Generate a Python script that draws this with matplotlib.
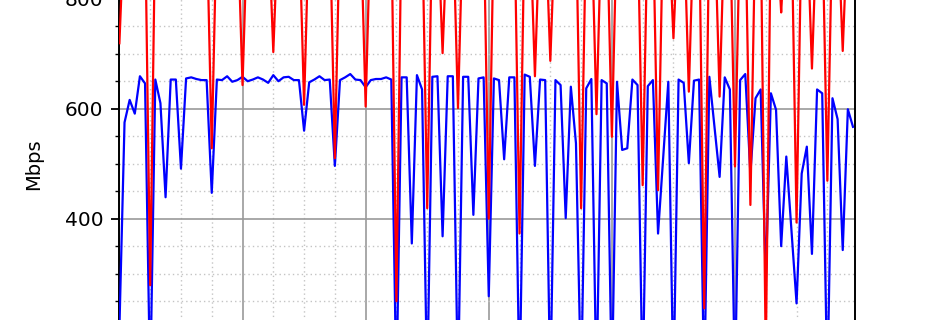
import numpy as np
import matplotlib
matplotlib.use("Agg")
import matplotlib.pyplot as plt
from matplotlib.ticker import MultipleLocator

# Throughput samples (Mbps), one per time step
blue_mbps = [200, 575, 616, 591, 659, 646, 90, 653, 610, 439,
             653, 653, 491, 655, 657, 654, 652, 652, 447, 653,
             652, 659, 649, 652, 658, 650, 653, 657, 653, 647,
             661, 650, 657, 658, 652, 652, 560, 648, 653, 659,
             652, 653, 496, 652, 657, 663, 653, 652, 639, 652,
             654, 654, 657, 653, 90, 657, 657, 355, 661, 635,
             90, 658, 659, 368, 659, 659, 90, 658, 658, 407,
             655, 657, 259, 655, 652, 508, 657, 657, 90, 662,
             658, 496, 653, 652, 90, 652, 643, 401, 640, 537,
             90, 637, 654, 90, 652, 646, 90, 649, 525, 528,
             653, 643, 90, 641, 652, 373, 511, 649, 90, 653,
             647, 501, 651, 653, 90, 658, 567, 476, 657, 635,
             90, 652, 663, 482, 619, 635, 289, 628, 598, 350,
             513, 379, 246, 482, 531, 336, 635, 628, 90, 619,
             581, 343, 599, 567]

red_mbps = [719, 950, 950, 950, 950, 950, 279, 950, 950, 950,
            950, 950, 950, 950, 950, 950, 950, 950, 528, 950,
            950, 950, 950, 950, 643, 950, 950, 950, 950, 950,
            703, 950, 950, 950, 950, 950, 607, 950, 950, 950,
            950, 950, 510, 950, 950, 950, 950, 950, 604, 950,
            950, 950, 950, 950, 250, 950, 950, 950, 950, 950,
            419, 950, 950, 701, 950, 950, 601, 950, 950, 950,
            950, 950, 400, 950, 950, 950, 950, 950, 373, 950,
            950, 659, 950, 950, 687, 950, 950, 950, 950, 950,
            419, 950, 950, 590, 950, 950, 549, 950, 950, 950,
            950, 950, 461, 950, 950, 452, 950, 950, 728, 950,
            950, 631, 950, 950, 237, 950, 950, 622, 950, 950,
            495, 950, 950, 425, 950, 950, 150, 950, 950, 775,
            950, 950, 393, 950, 950, 673, 950, 950, 469, 950,
            950, 705, 950, 950]

y_label = "Mbps"

x = np.arange(len(blue_mbps))

W, H = 950, 320
fig = plt.figure(figsize=(W / 100, H / 100), dpi=100)

# axes extends beyond the visible figure (cropped view)
left_px, right_px = 119.4, 855.3
top_px, bottom_px = -111.3, 438.7
ax = fig.add_axes([left_px / W, (H - bottom_px) / H,
                   (right_px - left_px) / W, (bottom_px - top_px) / H])

ax.plot(x, blue_mbps, color="#0000ff", lw=1.6, zorder=3)
ax.plot(x, red_mbps, color="#ff0000", lw=1.6, zorder=4)

ax.set_xlim(0, 143.45)
ax.set_ylim(0, 1000)

ax.xaxis.set_major_locator(MultipleLocator(24))
ax.xaxis.set_minor_locator(MultipleLocator(6))
ax.yaxis.set_major_locator(MultipleLocator(200))
ax.yaxis.set_minor_locator(MultipleLocator(50))

ax.grid(which="major", color="#9a9a9a", lw=1.2, ls="-", zorder=1)
ax.grid(which="minor", color="#c4c4c4", lw=1.0, ls=(0, (1, 2.2)), zorder=1)
ax.set_axisbelow(True)

ax.tick_params(axis="y", which="major", length=6, width=1.3, labelsize=14.5, pad=5.5)
ax.tick_params(axis="y", which="minor", length=3.2, width=1.0)
ax.tick_params(axis="x", which="both", bottom=False, labelbottom=False)

for s in ax.spines.values():
    s.set_linewidth(1.4)
    s.set_color("black")

ax.set_ylabel(y_label, fontsize=14)
ax.yaxis.set_label_coords(-0.103, 0.5)

fig.savefig("out.png", dpi=100)
